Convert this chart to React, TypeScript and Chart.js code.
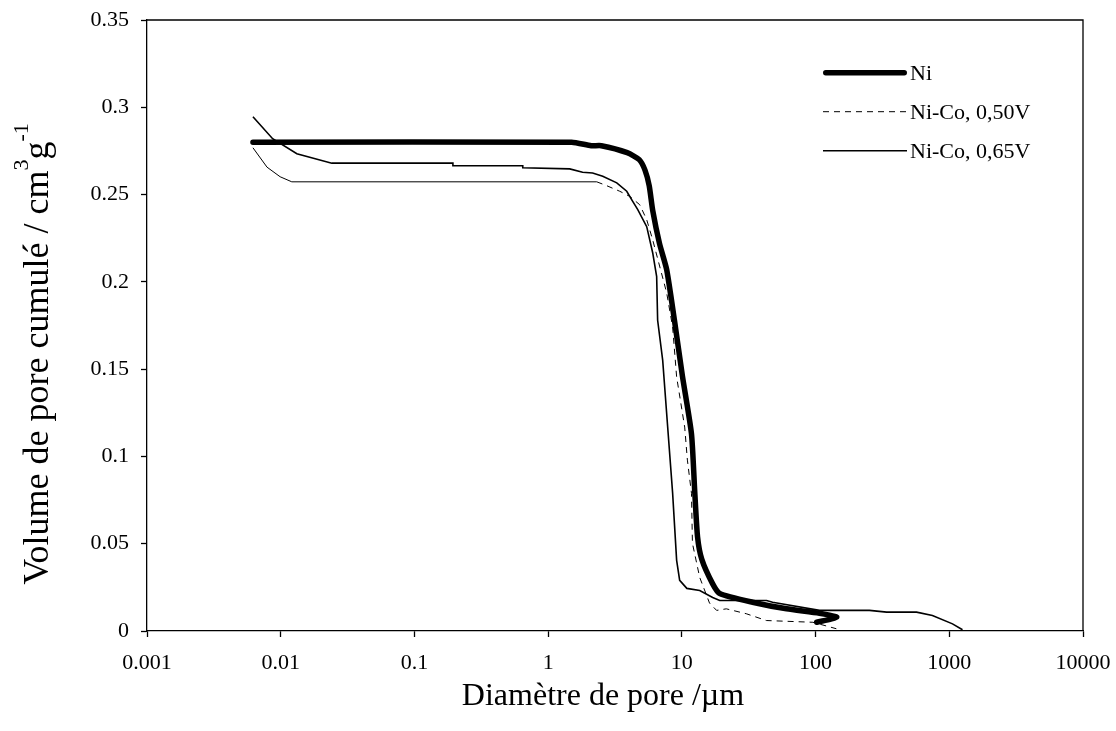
import React, { useEffect, useRef } from 'react';
import { Chart, registerables } from 'chart.js';

Chart.register(...registerables);

// ---- Data ----
const seriesNames = ['Ni', 'Ni-Co, 0,50V', 'Ni-Co, 0,65V'];

const niX = [0.0062, 1.5, 2.1, 2.5, 3.9, 4.8, 5.3, 5.7, 6.05, 6.8, 7.7, 8.8, 10.1, 11.8, 12.5, 13.1, 14.1, 17.0, 19.2, 33.8, 60.7, 107, 144, 102];
const niY = [0.280, 0.280, 0.278, 0.278, 0.274, 0.270, 0.264, 0.255, 0.241, 0.222, 0.207, 0.178, 0.146, 0.113, 0.079, 0.054, 0.041, 0.027, 0.0215, 0.0165, 0.0127, 0.0102, 0.0079, 0.005];

const co50X = [0.0062, 0.0079, 0.0099, 0.0121, 2.31, 2.74, 3.43, 4.07, 4.84, 5.46, 6.05, 7.7, 8.53, 9.14, 10.5, 11.0, 11.8, 12.0, 13.6, 16.1, 18.2, 21.5, 30.3, 42.8, 95.5, 143];
const co50Y = [0.2768, 0.2657, 0.2602, 0.2573, 0.2573, 0.2551, 0.2519, 0.249, 0.2442, 0.2356, 0.2241, 0.1937, 0.1742, 0.1455, 0.1168, 0.0979, 0.0789, 0.0502, 0.0307, 0.016, 0.0118, 0.0127, 0.0099, 0.006, 0.005, 0.0013];

const co65X = [0.0062, 0.0087, 0.0132, 0.0241, 0.194, 0.194, 0.646, 0.646, 1.45, 1.81, 2.15, 2.56, 3.26, 3.87, 4.29, 4.68, 5.46, 6.05, 6.48, 6.59, 7.19, 7.83, 8.53, 9.14, 9.63, 10.9, 13.6, 17.0, 19.2, 43.0, 47.7, 107, 253, 340, 569, 748, 1057, 1256];
const co65Y = [0.2946, 0.282, 0.2734, 0.268, 0.268, 0.2665, 0.2665, 0.2654, 0.2647, 0.2628, 0.2624, 0.2605, 0.2567, 0.2519, 0.2461, 0.2414, 0.2316, 0.2167, 0.203, 0.178, 0.155, 0.117, 0.079, 0.0405, 0.029, 0.0244, 0.0232, 0.0192, 0.0175, 0.0175, 0.0165, 0.0118, 0.0118, 0.0108, 0.0108, 0.0089, 0.0041, 0.0007];

const xTickValues = [0.001, 0.01, 0.1, 1, 10, 100, 1000, 10000];
const xTickLabels = ['0.001', '0.01', '0.1', '1', '10', '100', '1000', '10000'];
const yTickValues = [0, 0.05, 0.1, 0.15, 0.2, 0.25, 0.3, 0.35];
const yTickLabels = ['0', '0.05', '0.1', '0.15', '0.2', '0.25', '0.3', '0.35'];

const xTitle = 'Diamètre de pore /µm';
const yTitleMain = 'Volume de pore cumulé / cm';
const yTitleSup1 = '3';
const yTitleMid = 'g';
const yTitleSup2 = '-1';

const FONT = '"Liberation Serif", "Times New Roman", serif';

const toPoints = (xs: number[], ys: number[]) => xs.map((x, i) => ({ x, y: ys[i] }));

const decorPlugin = {
  id: 'decor',
  afterDraw(chart: any) {
    const { ctx, chartArea: ca } = chart;
    ctx.save();
    // frame (top + right)
    ctx.strokeStyle = '#000';
    ctx.lineWidth = 1.3;
    ctx.setLineDash([]);
    ctx.beginPath();
    ctx.moveTo(ca.left, ca.top);
    ctx.lineTo(ca.right, ca.top);
    ctx.lineTo(ca.right, ca.bottom);
    ctx.stroke();

    // legend
    chart.data.datasets.forEach((ds: any, i: number) => {
      const y = 72.7 + i * 39;
      ctx.beginPath();
      ctx.lineWidth = ds.borderWidth;
      ctx.lineCap = ds.borderCapStyle || 'butt';
      ctx.setLineDash(ds.legendDash || []);
      ctx.strokeStyle = '#000';
      const inset = ds.borderCapStyle === 'round' ? ds.borderWidth / 2 : 0;
      ctx.moveTo(823 + inset, y);
      ctx.lineTo(907 - inset, y);
      ctx.stroke();
      ctx.setLineDash([]);
      ctx.font = `22px ${FONT}`;
      ctx.fillStyle = '#000';
      ctx.textAlign = 'left';
      ctx.textBaseline = 'alphabetic';
      ctx.fillText(ds.label, 910, y + 7.5);
    });

    // x title
    ctx.font = `32px ${FONT}`;
    ctx.textAlign = 'center';
    ctx.textBaseline = 'alphabetic';
    ctx.fillStyle = '#000';
    ctx.fillText(xTitle, 603, 705);

    // y title with superscripts
    const big = `36px ${FONT}`;
    const small = `22px ${FONT}`;
    ctx.font = big;
    const w1 = ctx.measureText(yTitleMain).width;
    const w3 = ctx.measureText(yTitleMid).width;
    ctx.font = small;
    const w2 = ctx.measureText(yTitleSup1).width;
    const w4 = ctx.measureText(yTitleSup2).width;
    const total = w1 + w2 + w3 + w4;
    ctx.translate(48, 354);
    ctx.rotate(-Math.PI / 2);
    ctx.textAlign = 'left';
    let x = -total / 2;
    ctx.font = big;
    ctx.fillText(yTitleMain, x, 0);
    x += w1;
    ctx.font = small;
    ctx.fillText(yTitleSup1, x, -20);
    x += w2;
    ctx.font = big;
    ctx.fillText(yTitleMid, x, 0);
    x += w3;
    ctx.font = small;
    ctx.fillText(yTitleSup2, x, -20);
    ctx.restore();
  },
};

export default function App() {
  const ref = useRef<HTMLCanvasElement | null>(null);

  useEffect(() => {
    if (!ref.current) return;
    const chart = new Chart(ref.current, {
      type: 'scatter',
      data: {
        datasets: [
          {
            label: seriesNames[0],
            data: toPoints(niX, niY),
            showLine: true,
            borderColor: '#000',
            borderWidth: 5.5,
            borderCapStyle: 'round',
            borderJoinStyle: 'round',
            pointRadius: 0,
            tension: 0.2,
          } as any,
          {
            label: seriesNames[1],
            data: toPoints(co50X, co50Y),
            showLine: true,
            borderColor: '#000',
            borderWidth: 1,
            pointRadius: 0,
            legendDash: [6, 5],
            segment: {
              borderDash: (c: any) => (c.p0.parsed.x < 2 ? [] : [6, 5]),
            },
          } as any,
          {
            label: seriesNames[2],
            data: toPoints(co65X, co65Y),
            showLine: true,
            borderColor: '#000',
            borderWidth: 1.6,
            pointRadius: 0,
          } as any,
        ],
      },
      options: {
        animation: false,
        responsive: false,
        maintainAspectRatio: false,
        layout: { padding: { top: 20, right: 33, left: 0, bottom: 0 } },
        plugins: {
          legend: { display: false },
          tooltip: { enabled: false },
        },
        scales: {
          x: {
            type: 'logarithmic',
            min: 0.001,
            max: 10000,
            afterBuildTicks: (scale: any) => {
              scale.ticks = xTickValues.map((v) => ({ value: v }));
            },
            afterFit: (scale: any) => {
              scale.height = 100;
              scale.paddingLeft = 0;
              scale.paddingRight = 0;
            },
            ticks: {
              autoSkip: false,
              maxRotation: 0,
              minRotation: 0,
              padding: 13,
              color: '#000',
              font: { family: FONT, size: 22 },
              callback: (_v: any, i: number) => xTickLabels[i],
            },
            grid: {
              drawOnChartArea: false,
              drawTicks: true,
              tickLength: 6,
              tickColor: '#000',
              tickWidth: 1.3,
            },
            border: { color: '#000', width: 1.3 },
          },
          y: {
            type: 'linear',
            min: 0,
            max: 0.35,
            afterBuildTicks: (scale: any) => {
              scale.ticks = yTickValues.map((v) => ({ value: v }));
            },
            afterFit: (scale: any) => {
              scale.width = 147;
              scale.paddingTop = 0;
              scale.paddingBottom = 0;
            },
            ticks: {
              autoSkip: false,
              padding: 12,
              color: '#000',
              font: { family: FONT, size: 22 },
              callback: (_v: any, i: number) => yTickLabels[i],
            },
            grid: {
              drawOnChartArea: false,
              drawTicks: true,
              tickLength: 6,
              tickColor: '#000',
              tickWidth: 1.3,
            },
            border: { color: '#000', width: 1.3 },
          },
        },
      } as any,
      plugins: [decorPlugin],
    });
    return () => chart.destroy();
  }, []);

  return (
    <div style={{ position: 'fixed', left: 0, top: 0, width: 1116, height: 731, background: '#fff' }}>
      <canvas ref={ref} width={1116} height={731} style={{ display: 'block' }} />
    </div>
  );
}
